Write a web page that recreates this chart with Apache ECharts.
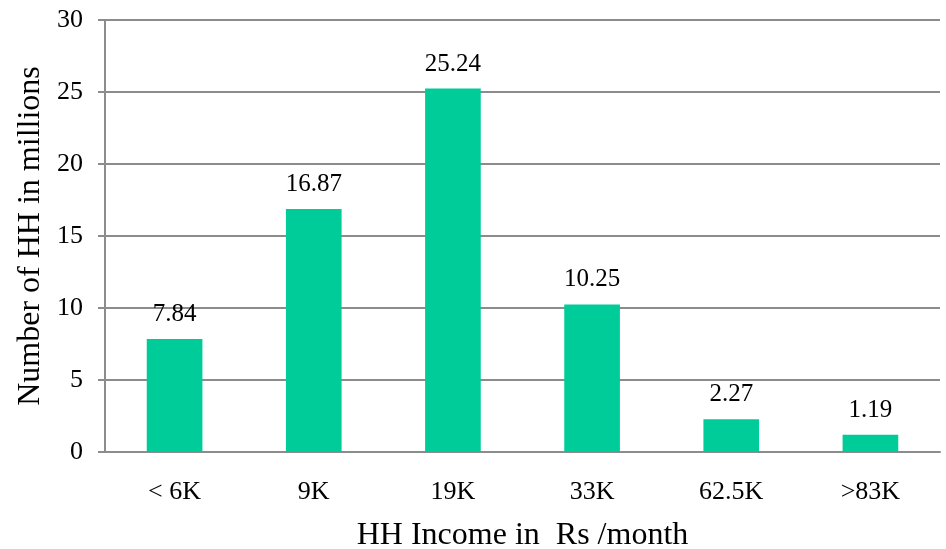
<!DOCTYPE html>
<html lang="en">
<head>
    <meta charset="UTF-8">
    <title>HH Income</title>
    <style>
        html, body { margin: 0; padding: 0; background: #fff; }
        #chart { width: 946px; height: 549px; }
    </style>
</head>
<body>
    <div id="chart"></div>
    <script src="https://cdn.jsdelivr.net/npm/echarts@6/dist/echarts.min.js"></script>
    <script>
        const categories = ['< 6K', '9K', '19K', '33K', '62.5K', '>83K'];
        const households = [7.84, 16.87, 25.24, 10.25, 2.27, 1.19];
        const yTicks = [0, 5, 10, 15, 20, 25, 30];

        const font = '"Liberation Serif", "DejaVu Serif", serif';
        const grey = '#8c8c8c';

        const chart = echarts.init(document.getElementById('chart'));
        chart.setOption({
            animation: false,
            grid: { left: 105, right: 6, top: 20, bottom: 97, containLabel: false, outerBoundsMode: 'none' },
            xAxis: {
                type: 'category',
                data: categories,
                name: 'HH Income in  Rs /month',
                nameLocation: 'middle',
                nameGap: 68,
                nameTextStyle: { fontFamily: font, fontSize: 32, color: '#000' },
                axisLine: { lineStyle: { color: grey, width: 2 } },
                axisTick: { length: 7, lineStyle: { color: grey, width: 2 } },
                axisLabel: { fontFamily: font, fontSize: 26, color: '#000', margin: 27 }
            },
            yAxis: {
                type: 'value',
                min: yTicks[0],
                max: yTicks[yTicks.length - 1],
                interval: 5,
                name: 'Number of HH in millions',
                nameLocation: 'middle',
                nameGap: 54,
                nameTextStyle: { fontFamily: font, fontSize: 32, color: '#000' },
                axisLine: { show: true, lineStyle: { color: grey, width: 2 } },
                axisTick: { show: true, length: 7, lineStyle: { color: grey, width: 2 } },
                axisLabel: { fontFamily: font, fontSize: 26, color: '#000', margin: 22 },
                splitLine: { lineStyle: { color: grey, width: 2 } }
            },
            series: [{
                type: 'bar',
                data: households,
                barWidth: '40%',
                itemStyle: { color: '#00cc99' },
                label: {
                    show: true,
                    position: 'top',
                    distance: 12,
                    fontFamily: font,
                    fontSize: 25,
                    color: '#000'
                }
            }]
        });
    </script>
</body>
</html>
